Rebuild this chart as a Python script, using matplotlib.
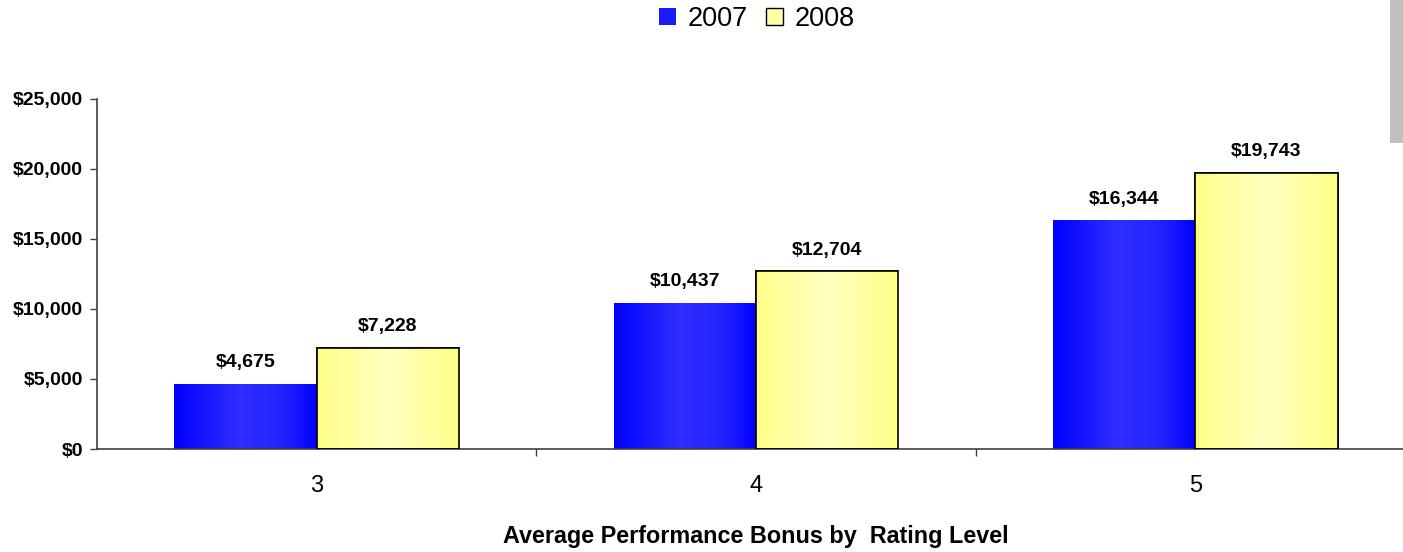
import numpy as np
import matplotlib
matplotlib.use("Agg")
import matplotlib.pyplot as plt
from matplotlib.patches import Rectangle
from matplotlib.colors import LinearSegmentedColormap
from matplotlib.ticker import FuncFormatter, FixedLocator

categories = ["3", "4", "5"]
series_names = ["2007", "2008"]
values_2007 = [4675, 10437, 16344]
values_2008 = [7228, 12704, 19743]
y_ticks = [0, 5000, 10000, 15000, 20000, 25000]

plt.rcParams['font.family'] = ['Liberation Sans', 'DejaVu Sans']

fig = plt.figure(figsize=(14.03, 5.52), dpi=100)
ax = fig.add_axes([97/1403, 1-449/552, (1415-97)/1403, 350/552])

x = np.arange(len(categories))
w = 0.324
blue_cmap = LinearSegmentedColormap.from_list("b", [(0, "#0000ff"), (0.45, "#2e2eff"), (0.75, "#2424ff"), (1, "#0000ff")])
yel_cmap = LinearSegmentedColormap.from_list("y", [(0, "#ffff88"), (0.5, "#ffffc0"), (1, "#ffff88")])

b1 = ax.bar(x - w/2, values_2007, w, color="#0000ff", edgecolor="none", zorder=2)
b2 = ax.bar(x + w/2, values_2008, w, color="#ffff99", edgecolor="black", linewidth=1.2, zorder=2)

grad = np.linspace(0, 1, 256).reshape(1, -1)
for bars, cmap in ((b1, blue_cmap), (b2, yel_cmap)):
    for p in bars:
        x0, y0 = p.get_x(), p.get_y()
        im = ax.imshow(grad, cmap=cmap, aspect="auto",
                       extent=(x0, x0 + p.get_width(), y0, y0 + p.get_height()),
                       zorder=2.5, interpolation="bilinear")
        im.set_clip_path(p)
for p in b2:
    ax.add_patch(Rectangle((p.get_x(), p.get_y()), p.get_width(), p.get_height(),
                           fill=False, edgecolor="black", linewidth=1.2, zorder=3))

for bars, vals in ((b1, values_2007), (b2, values_2008)):
    for p, v in zip(bars, vals):
        ax.annotate(f"${v:,.0f}", (p.get_x() + p.get_width()/2, v),
                    xytext=(0, 9), textcoords="offset points",
                    ha="center", va="bottom", fontsize=14, fontweight="bold")

ax.set_xlim(-0.5, 2.5)
ax.set_ylim(0, 25000)
ax.set_yticks(y_ticks)
ax.yaxis.set_major_formatter(FuncFormatter(lambda v, pos: f"${v:,.0f}"))
for lab in ax.get_yticklabels():
    lab.set_fontweight("bold")
ax.tick_params(axis="y", length=5, width=1, color="#404040", labelsize=14, pad=5)

ax.set_xticks(x)
ax.set_xticklabels(categories)
ax.xaxis.set_minor_locator(FixedLocator([0.5, 1.5]))
ax.tick_params(axis="x", which="major", length=0, labelsize=17, pad=19)
ax.tick_params(axis="x", which="minor", length=5, width=1, color="#404040")

for s in ("top", "right"):
    ax.spines[s].set_visible(False)
for s in ("left", "bottom"):
    ax.spines[s].set_color("#404040")
    ax.spines[s].set_linewidth(1.2)

handles = [Rectangle((0, 0), 1, 1, facecolor="#1a1aff", edgecolor="none"),
           Rectangle((0, 0), 1, 1, facecolor="#ffffa8", edgecolor="black", linewidth=1)]
fig.legend(handles, series_names, loc="center", bbox_to_anchor=(757/1403, 1-19/552),
           ncol=2, frameon=False, fontsize=19.5, handlelength=0.63, handleheight=0.63,
           handletextpad=0.45, columnspacing=0.65, borderpad=0, borderaxespad=0)

ax.set_xlabel("Average Performance Bonus by  Rating Level", fontsize=16.8,
              fontweight="bold", labelpad=0)
ax.xaxis.set_label_coords(0.5, -(536 - 449) / 350, transform=ax.transAxes)
ax.xaxis.label.set_va("center")

fig.add_artist(Rectangle((1390/1403, 1-143/552), 13/1403, 143/552,
                         transform=fig.transFigure, facecolor="#c0c0c0", edgecolor="none"))

fig.savefig("out.png", dpi=100)
